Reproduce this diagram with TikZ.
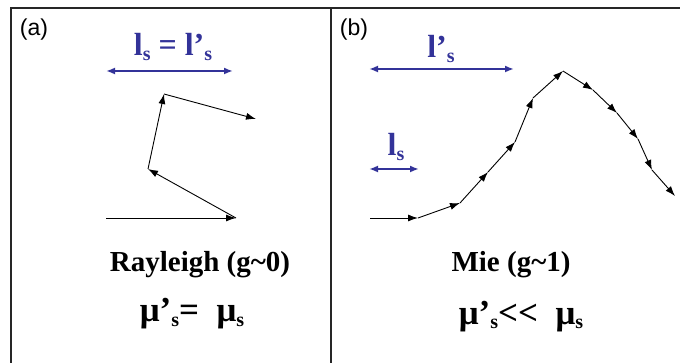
\documentclass[tikz,border=0pt]{standalone}
\usepackage{fontspec}
\setmainfont{Liberation Serif}[Ligatures=NoCommon]
\newfontfamily\arialf{Liberation Sans}
\usetikzlibrary{arrows.meta}
\definecolor{navy}{RGB}{51,51,153}
\newcommand{\subs}{\raisebox{-5pt}{\fontsize{20}{20}\selectfont s}}
\begin{document}
\begin{tikzpicture}[x=1pt,y=-1pt,
  frame/.style={line width=1.2pt, draw=black!85},
  walk/.style={line width=0.9pt, -{Latex[length=10pt,width=7pt]}},
  span/.style={draw=navy, line width=1.8pt, {Latex[length=9pt,width=7pt]}-{Latex[length=9pt,width=7pt]}},
  big/.style={font=\bfseries\fontsize{29}{30}\selectfont, inner sep=0pt, anchor=base},
  mu/.style={font=\bfseries\fontsize{35}{36}\selectfont, inner sep=0pt, anchor=base},
  lab/.style={font=\bfseries\fontsize{32}{32}\selectfont, text=navy, inner sep=0pt, anchor=base},
  tag/.style={font=\arialf\fontsize{23}{23}\selectfont, inner sep=0pt}
]
\useasboundingbox (0,0) rectangle (680,363);
% frame
\draw[frame] (11,363) -- (11,8) -- (680,8);
\draw[frame] (331,8) -- (331,363);
% panel tags
\node[tag] (ta) at (34,30) {(a)};
\node[tag] (tb) at (354,30) {(b)};
% panel (a): blue span
\coordinate (aL) at (106,71);
\coordinate (aR) at (233,71);
\draw[span] (aL) -- (aR);
\node[lab] (la) at (173,56) {l\subs\ = l’\subs};
% panel (a): random walk
\coordinate (a0) at (106,218);
\coordinate (a1) at (236,218);
\coordinate (a2) at (148,169);
\coordinate (a3) at (164,94);
\coordinate (a4) at (256,119);
\draw[walk] (a0) -- (a1);
\draw[walk] (a1) -- (a2);
\draw[walk] (a2) -- (a3);
\draw[walk] (a3) -- (a4);
\node[big] (ra) at (200,272) {Rayleigh (g\char"7E 0)};
\node[mu] (ma) at (192,322) {μ’\subs= \ μ\subs};
% panel (b): blue spans
\coordinate (bL) at (369,69);
\coordinate (bR) at (514,69);
\draw[span] (bL) -- (bR);
\node[lab] (lb) at (441,58) {l’\subs};
\coordinate (cL) at (369,169);
\coordinate (cR) at (419,169);
\draw[span] (cL) -- (cR);
\node[lab] (lc) at (396,156) {l\subs};
% panel (b): forward-peaked walk
\coordinate (b0) at (370,218);
\coordinate (b1) at (418,218);
\coordinate (b2) at (460,203);
\coordinate (b3) at (488,172);
\coordinate (b4) at (515,142);
\coordinate (b5) at (533,98);
\coordinate (b6) at (563,71);
\coordinate (b7) at (593,90);
\coordinate (b8) at (617,113);
\coordinate (b9) at (638,139);
\coordinate (b10) at (652,170);
\coordinate (b11) at (675,196);
\draw[walk] (b0) -- (b1);
\draw[walk] (b1) -- (b2);
\draw[walk] (b2) -- (b3);
\draw[walk] (b3) -- (b4);
\draw[walk] (b4) -- (b5);
\draw[walk] (b5) -- (b6);
\draw[walk] (b6) -- (b7);
\draw[walk] (b7) -- (b8);
\draw[walk] (b8) -- (b9);
\draw[walk] (b9) -- (b10);
\draw[walk] (b10) -- (b11);
\node[big] (mb) at (511,272) {Mie (g\char"7E 1)};
\node[mu] (mc) at (521,324) {μ’\subs{<}{<}\ \ μ\subs};
\end{tikzpicture}
\end{document}
